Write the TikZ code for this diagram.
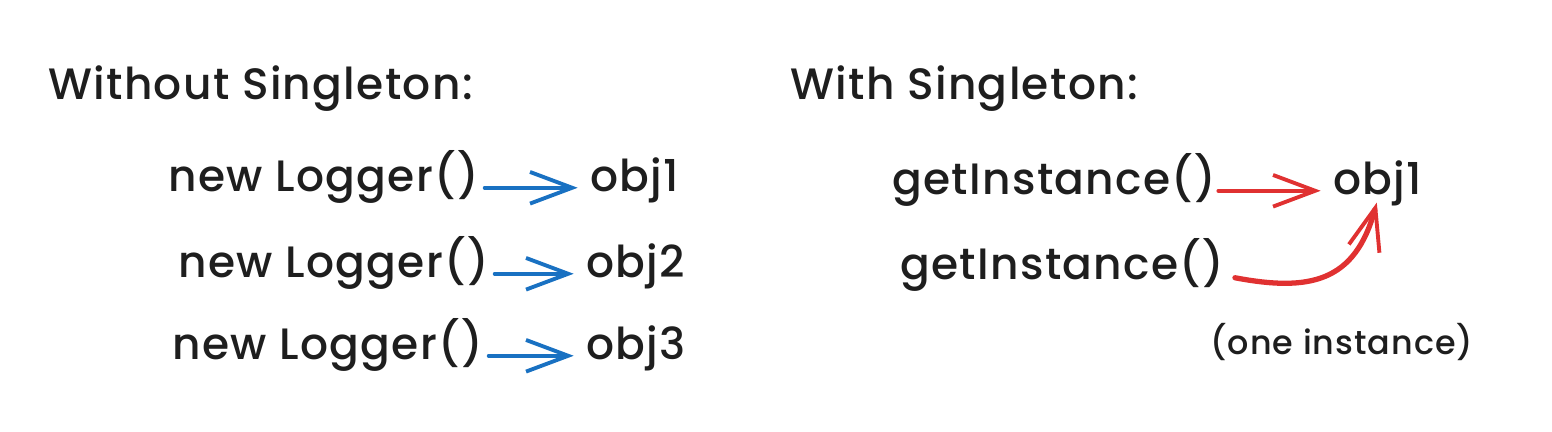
\documentclass[tikz,border=0pt]{standalone}
\usepackage{fontspec}
\setmainfont{Poppins}[UprightFont=* Medium,LetterSpace=3]
\usetikzlibrary{arrows.meta}
\definecolor{inkblack}{HTML}{1E1E1E}
\definecolor{arrowblue}{HTML}{1971C2}
\definecolor{arrowred}{HTML}{E03131}

\begin{document}
\begin{tikzpicture}[x=0.02cm,y=0.02cm,
	word/.style={text=inkblack,inner sep=0pt,anchor=base west,font=\fontsize{25}{30}\selectfont,text height=0.7em,text depth=0.22em},
	small/.style={word,font=\fontsize{19}{24}\selectfont},
	bluearrow/.style={draw=arrowblue,line width=2.2pt,line cap=round,shorten <=3pt,shorten >=7pt,-{Straight Barb[length=24pt,width=18pt,line width=2.2pt]}},
	redarrow/.style={bluearrow,draw=arrowred}]
			% fix the page
			\useasboundingbox (0,0) rectangle (1552,432);
			% titles
			\node[word] (titleA) at (48,332) {Without Singleton:};
			\node[word] (titleB) at (790,332) {With Singleton:};
			% without singleton
			\node[word] (new1) at (168,240) {new Logger()};
			\node[word] (obj1) at (590,240) {obj1};
			\node[word] (new2) at (178,154) {new Logger()};
			\node[word] (obj2) at (586,154) {obj2};
			\node[word] (new3) at (172,72) {new Logger()};
			\node[word] (obj3) at (586,72) {obj3};
			\draw[bluearrow] (new1.east) -- (obj1.west);
			\draw[bluearrow] (new2.east) -- (obj2.west);
			\draw[bluearrow] (new3.east) -- (obj3.west);
			% with singleton
			\node[word] (get1) at (892,237) {getInstance()};
			\node[word] (objone) at (1333,237) {obj1};
			\node[word] (get2) at (900,152) {getInstance()};
			\node[small] (note) at (1210,77) {(one instance)};
			\draw[redarrow,shorten <=1pt] (get1.east) -- (objone.west);
			\draw[redarrow,line width=3pt,shorten <=6pt,shorten >=2pt] (get2.east) .. controls (1310,140) and (1355,150) .. (objone.south);
		\end{tikzpicture}
\end{document}
